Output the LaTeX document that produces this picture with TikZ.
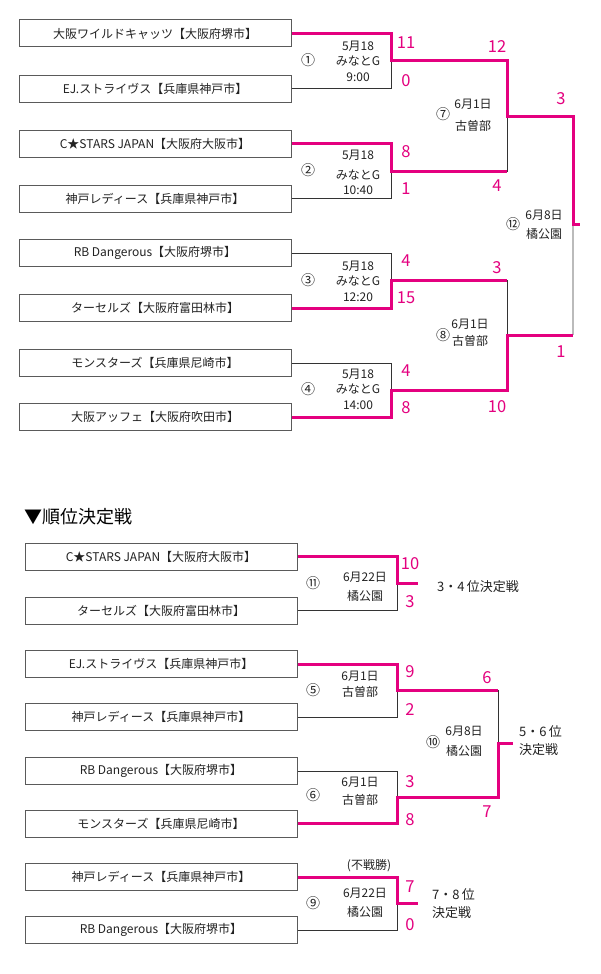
\documentclass[tikz,border=0pt]{standalone}
\usepackage{fontspec}
\setmainfont{Noto Sans CJK JP}
\definecolor{pk}{HTML}{E4007F}
\definecolor{bx}{HTML}{5A5A5A}
\definecolor{ln}{HTML}{333333}
\definecolor{lg}{HTML}{BBBBBB}
\definecolor{tx}{HTML}{222222}
\begin{document}
\begin{tikzpicture}[x=1pt,y=-1pt,
  team/.style={draw=bx,line width=1pt,minimum width=272pt,minimum height=27pt,inner sep=0pt,text=tx,font=\fontsize{12}{13}\selectfont},
  win/.style={draw=pk,line width=3pt},
  lose/.style={draw=ln,line width=1pt},
  faint/.style={draw=lg,line width=1.2pt},
  score/.style={text=pk,inner sep=0pt,font=\fontsize{16.5}{18}\selectfont},
  info/.style={text=tx,inner sep=0pt,align=center,font=\fontsize{12}{15.5}\selectfont},
  circ/.style={text=tx,inner sep=0pt,font=\fontsize{14}{15}\selectfont},
  rank/.style={text=tx,inner sep=0pt,anchor=west,align=left,font=\fontsize{13}{18}\selectfont}]
\useasboundingbox (0,0) rectangle (600,974);
\fill[white] (0,0) rectangle (600,974);

% ---------- main bracket ----------
\node[team] (t1) at (155,33.5) {大阪ワイルドキャッツ【大阪府堺市】};
\node[team] (t2) at (155,88.5) {EJ.ストライヴス【兵庫県神戸市】};
\node[team] (t3) at (155,143.5) {C★STARS JAPAN【大阪府大阪市】};
\node[team] (t4) at (155,198.5) {神戸レディース【兵庫県神戸市】};
\node[team] (t5) at (155,253) {RB Dangerous【大阪府堺市】};
\node[team] (t6) at (155,308) {ターセルズ【大阪府富田林市】};
\node[team] (t7) at (155,363) {モンスターズ【兵庫県尼崎市】};
\node[team] (t8) at (155,417) {大阪アッフェ【大阪府吹田市】};

\coordinate (m1) at (391,61);
\coordinate (m2) at (391,171);
\coordinate (m3) at (391,280.5);
\coordinate (m4) at (391,390);
\coordinate (f1) at (507,116);
\coordinate (f2) at (507,335);
\coordinate (c) at (573,224);
\coordinate (ce) at (580,224);

\draw[lose] (t2.east) -| (m1);
\draw[lose] (t4.east) -| (m2) -| (f1);
\draw[lose] (t5.east) -| (m3) -| (f2);
\draw[lose] (t7.east) -| (m4);
\draw[faint] (f2 -| c) -- (c);
\draw[win] (t3.east) -| (m2) -- (m2 -| f1);
\draw[win] (t6.east) -| (m3) -- (m3 -| f2);
\draw[win] (t8.east) -| (m4) -| (f2) -- (f2 -| c);
\draw[win] (t1.east) -| (m1) -| (f1) -| (c) -- (ce);

\node[circ] (c1) at (308,60) {①};
\node[info] (i1) at (358,61) {5月18\\みなとG\\9:00};
\node[circ] (c2) at (308,170) {②};
\node[info] (i2) at (358,172.5) {5月18\\[4pt]みなとG\\10:40};
\node[circ] (c3) at (308,280) {③};
\node[info] (i3) at (358,281) {5月18\\みなとG\\12:20};
\node[circ] (c4) at (308,389) {④};
\node[info] (i4) at (358,389) {5月18\\みなとG\\14:00};
\node[circ] (c7) at (443,114) {⑦};
\node[info] (i7) at (473,115.5) {6月1日\\[7pt]古曽部};
\node[circ] (c8) at (443,335) {⑧};
\node[info] (i8) at (470,333) {6月1日\\[2pt]古曽部};
\node[circ] (c12) at (513,224) {⑫};
\node[info] (i12) at (544,225) {6月8日\\[4pt]橘公園};

\node[score] (s1) at (406,43) {11};
\node[score] (s2) at (406,81) {0};
\node[score] (s3) at (497,47) {12};
\node[score] (s4) at (561,99) {3};
\node[score] (s5) at (406,152) {8};
\node[score] (s6) at (406,189) {1};
\node[score] (s7) at (497,186) {4};
\node[score] (s8) at (406,261) {4};
\node[score] (s9) at (406,298) {15};
\node[score] (s10) at (497,268) {3};
\node[score] (s11) at (406,371) {4};
\node[score] (s12) at (406,408) {8};
\node[score] (s13) at (497,407) {10};
\node[score] (s14) at (561,352) {1};

% ---------- placement games ----------
\node[text=black,anchor=west,inner sep=0pt,font=\fontsize{18}{20}\selectfont] (hd) at (24,517) {▼順位決定戦};

\node[team] (b1) at (161,556.5) {C★STARS JAPAN【大阪府大阪市】};
\node[team] (b2) at (161,610.5) {ターセルズ【大阪府富田林市】};
\coordinate (m11) at (397,583.5);
\coordinate (e11) at (418,583.5);
\draw[lose] (b2.east) -| (m11);
\draw[win] (b1.east) -| (m11) -- (e11);
\node[circ] (c11) at (313,583) {⑪};
\node[info] (i11) at (365,587) {6月22日\\[4pt]橘公園};
\node[score] (u1) at (410,564) {10};
\node[score] (u2) at (410,602) {3};
\node[rank] (r34) at (437,587) {3・4\,位決定戦};

\node[team] (d1) at (161,664) {EJ.ストライヴス【兵庫県神戸市】};
\node[team] (d2) at (161,717) {神戸レディース【兵庫県神戸市】};
\node[team] (d3) at (161,771) {RB Dangerous【大阪府堺市】};
\node[team] (d4) at (161,823.5) {モンスターズ【兵庫県尼崎市】};
\coordinate (m5) at (397,690.5);
\coordinate (m6) at (397,797);
\coordinate (f10) at (498,743.5);
\coordinate (e10) at (513,743.5);
\draw[lose] (d2.east) -| (m5) -| (f10);
\draw[lose] (d3.east) -| (m6);
\draw[win] (d1.east) -| (m5) -- (m5 -| f10);
\draw[win] (d4.east) -| (m6) -| (f10) -- (e10);
\node[circ] (c5) at (313,690) {⑤};
\node[info] (i5) at (360,684.5) {6月1日\\[1pt]古曽部};
\node[circ] (c6) at (313,795) {⑥};
\node[info] (i6) at (360,791.5) {6月1日\\[3pt]古曽部};
\node[circ] (c10) at (433,742) {⑩};
\node[info] (i10) at (464,741.5) {6月8日\\[5pt]橘公園};
\node[score] (u3) at (410,672) {9};
\node[score] (u4) at (410,710) {2};
\node[score] (u5) at (487,678) {6};
\node[score] (u6) at (410,782) {3};
\node[score] (u7) at (410,820) {8};
\node[score] (u8) at (487,812) {7};
\node[rank] (r56) at (519,741) {5・6\,位\\決定戦};

\node[team] (g1) at (161,877) {神戸レディース【兵庫県神戸市】};
\node[team] (g2) at (161,930) {RB Dangerous【大阪府堺市】};
\coordinate (m9) at (397,903.5);
\coordinate (e9) at (418,903.5);
\draw[lose] (g2.east) -| (m9);
\draw[win] (g1.east) -| (m9) -- (e9);
\node[info] (fs) at (369,866) {(不戦勝)};
\node[circ] (c9) at (313,903) {⑨};
\node[info] (i9) at (365,903) {6月22日\\[4pt]橘公園};
\node[score] (u9) at (410,887) {7};
\node[score] (u10) at (410,925) {0};
\node[rank] (r78) at (432,903.5) {7・8\,位\\決定戦};
\end{tikzpicture}
\end{document}
